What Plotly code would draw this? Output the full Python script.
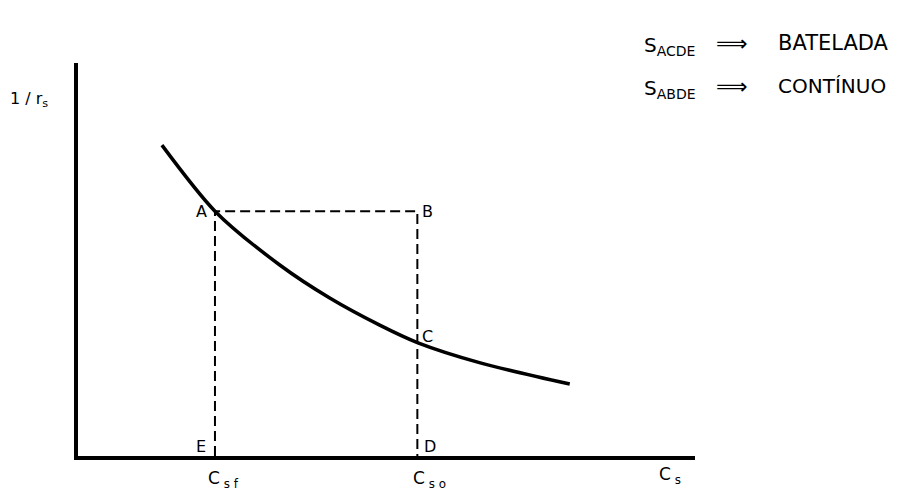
import plotly.graph_objects as go

# Curve 1/r_s versus C_s (arbitrary units, axes span 0..10)
curve_x = [1.36, 2.22, 3.27, 4.08, 4.89, 5.51, 6.52, 7.97]
curve_y = [7.91, 6.23, 4.86, 4.02, 3.33, 2.88, 2.37, 1.83]

# Key points
x_sf = 2.22   # C_sf
x_so = 5.50   # C_so
y_a = 6.23    # level of A-B

point_labels = ["A", "B", "C", "D", "E"]
point_lx = [2.00, 5.67, 5.67, 5.70, 2.00]
point_ly = [6.21, 6.21, 3.05, 0.25, 0.25]

FONT = "DejaVu Sans"
fig = go.Figure()

# dashed rectangle ABDE
fig.add_trace(go.Scatter(x=[x_sf, x_sf, x_so, x_so], y=[0, y_a, y_a, 0], mode="lines",
                         line=dict(color="black", width=2, dash="10px,5px"), hoverinfo="skip"))
# curve
fig.add_trace(go.Scatter(x=curve_x, y=curve_y, mode="lines",
                         line=dict(color="black", width=3.5, shape="spline", smoothing=0.8),
                         hoverinfo="skip"))

ann = []
for t, x, y in zip(point_labels, point_lx, point_ly):
    ann.append(dict(x=x, y=y, text=t, showarrow=False, font=dict(size=16, color="black", family=FONT)))


def pann(x, y, text, size, anchor="left"):
    # positions given in the same 0..10 units as the axes, placed via paper coords
    return dict(x=x / 10, y=y / 10, xref="paper", yref="paper", text=text, xanchor=anchor,
                showarrow=False, font=dict(size=size, color="black", family=FONT))


# axis labels
ann.append(pann(2.07, -0.95, "C<sub> s f</sub>", 17))
ann.append(pann(5.39, -0.95, "C<sub> s o</sub>", 17))
ann.append(pann(9.38, -0.83, "C<sub> s</sub>", 17))
ann.append(pann(-1.14, 9.38, "1 / r<sub>s</sub>", 16))

# legend text top-right
rows = [("S<sub>ACDE</sub>", "BATELADA", 10.82), ("S<sub>ABDE</sub>", "CONTÍNUO", 9.72)]
for s, word, yy in rows:
    ann.append(pann(9.14, yy, s, 20))
    ann.append(pann(10.60, yy + 0.05, "⟹", 22, "center"))
    ann.append(pann(11.31, yy + 0.05, word, 21 if word == "BATELADA" else 20))

fig.update_layout(
    width=914, height=499,
    margin=dict(l=78, r=219, t=63, b=43),
    paper_bgcolor="white", plot_bgcolor="white",
    showlegend=False,
    annotations=ann,
    xaxis=dict(range=[0, 10], showline=True, linewidth=4, linecolor="black", showgrid=False,
               zeroline=False, showticklabels=False, ticks=""),
    yaxis=dict(range=[0, 10], showline=True, linewidth=4, linecolor="black", showgrid=False,
               zeroline=False, showticklabels=False, ticks=""),
)
fig.write_html("out.html", config={"displayModeBar": False},
               post_script="document.body.style.margin='0';")
